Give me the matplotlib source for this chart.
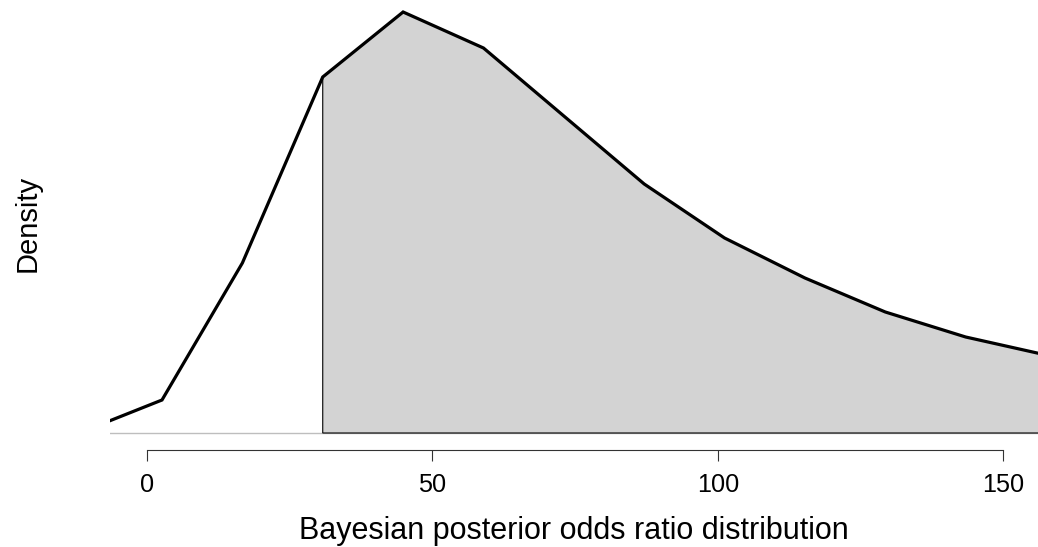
import numpy as np
import matplotlib.pyplot as plt

plt.rcParams['font.family'] = ['Liberation Sans', 'DejaVu Sans']

# --- Data ---
odds = [-11.45, 2.63, 16.71, 30.79, 44.87, 58.95, 73.03, 87.11, 101.19, 115.27, 129.35, 143.43, 157.51]
density = [1, 33, 170, 356, 421, 385, 317, 249, 195, 155, 121, 96, 78]
cutoff_idx = 3  # shading starts at this point
ticks = [0, 50, 100, 150]

W, H = 1038, 547
fig = plt.figure(figsize=(W / 100, H / 100), dpi=100)
ax = fig.add_axes([110 / W, (H - 440) / H, (W - 110) / W, 440 / H])

# shaded area from the cutoff to the right
xs = odds[cutoff_idx:]
ys = density[cutoff_idx:]
poly_x = [xs[0]] + xs + [xs[-1]]
poly_y = [0] + ys + [0]
ax.fill(poly_x, poly_y, facecolor='#d3d3d3', edgecolor='black', linewidth=0.8, zorder=2)

ax.axhline(0, color='#bebebe', linewidth=1, zorder=1)
ax.plot(odds, density, color='black', linewidth=2.3, solid_joinstyle='miter', zorder=3)

ax.set_xlim(-6.48, 156.1)
ax.set_ylim(-7, 433)

for s in ['top', 'right', 'left']:
    ax.spines[s].set_visible(False)
ax.spines['bottom'].set_position(('outward', 7.2))
ax.spines['bottom'].set_bounds(0, 150)
ax.spines['bottom'].set_color('#333333')
ax.set_yticks([])
ax.set_xticks(ticks)
ax.tick_params(axis='x', direction='out', length=7.9, width=0.8, color='#333333',
               labelsize=18.2, pad=9)

fig.text(573.5 / W, 1 - 539 / H, 'Bayesian posterior odds ratio distribution',
         fontsize=22, ha='center', va='baseline')
fig.text(28 / W, 1 - 223 / H, 'Density', rotation=90, fontsize=21, ha='center', va='center')

fig.savefig('out.png', dpi=100)
